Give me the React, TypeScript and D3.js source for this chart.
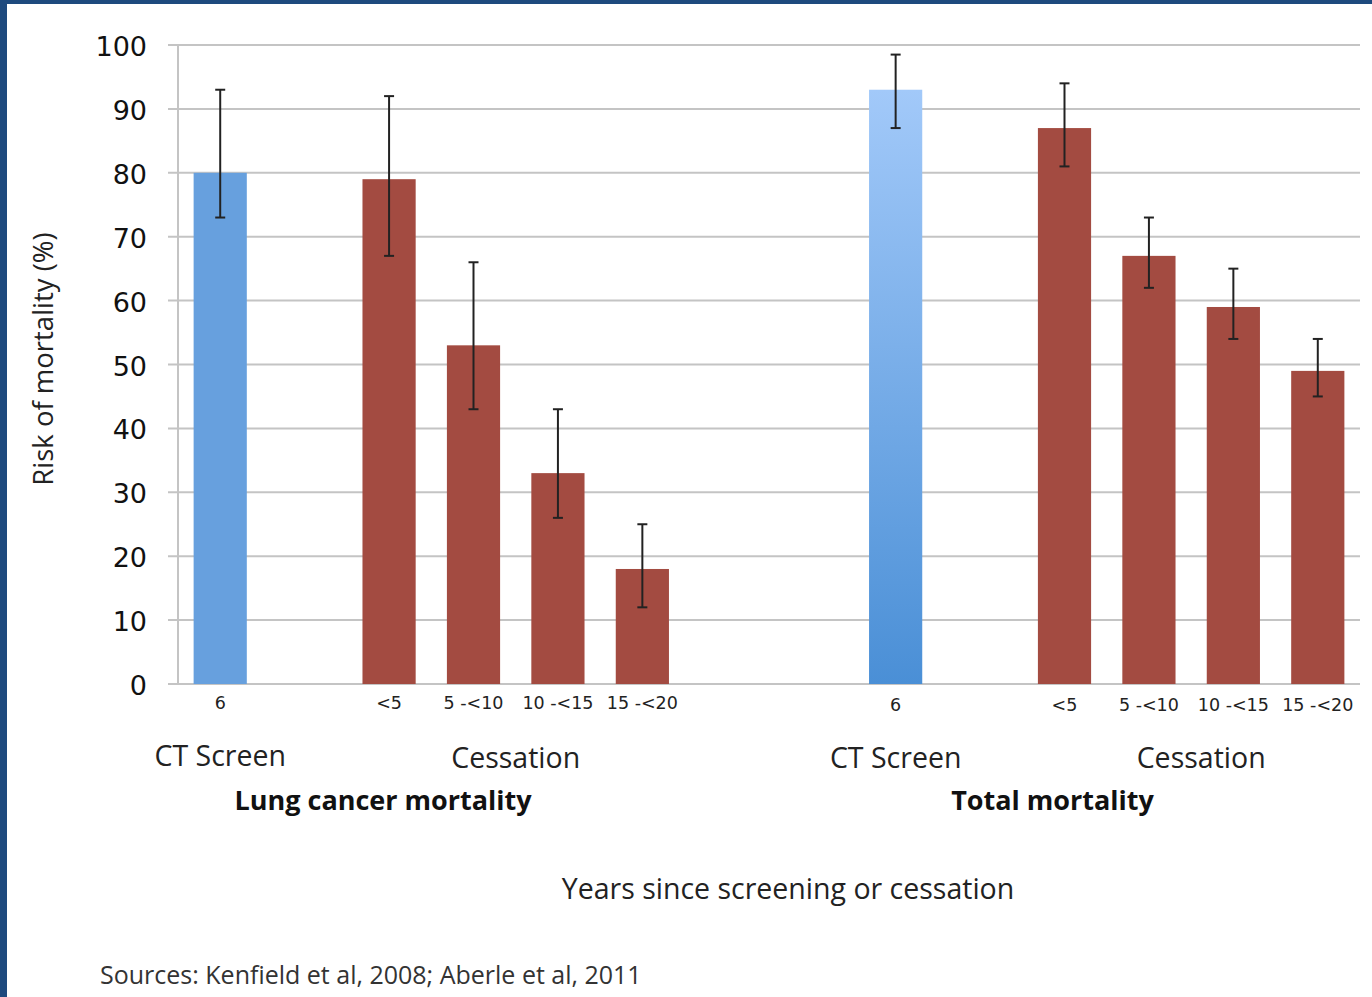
import React, { useRef, useEffect } from 'react';
import * as d3 from 'd3';

// 14 slots on a band scale, empty slots keep the spacing
const slots = ['s0', 's1', 's2', 's3', 's4', 's5', 's6', 's7', 's8', 's9', 's10', 's11', 's12', 's13'];
const barSlots = ['s0', 's2', 's3', 's4', 's5', 's8', 's10', 's11', 's12', 's13'];
const barLabels = ['6', '<5', '5 -<10', '10 -<15', '15 -<20', '6', '<5', '5 -<10', '10 -<15', '15 -<20'];
const barValues = [80, 79, 53, 33, 18, 93, 87, 67, 59, 49];
const errLow = [73, 67, 43, 26, 12, 87, 81, 62, 54, 45];
const errHigh = [93, 92, 66, 43, 25, 98.5, 94, 73, 65, 54];
const barKinds = ['ct', 'cess', 'cess', 'cess', 'cess', 'ctGrad', 'cess', 'cess', 'cess', 'cess'];
const yTicks = [0, 10, 20, 30, 40, 50, 60, 70, 80, 90, 100];

const groupLabels = [
  { text: 'CT Screen', from: 's0', to: 's0' },
  { text: 'Cessation', from: 's2', to: 's5' },
  { text: 'CT Screen', from: 's8', to: 's8' },
  { text: 'Cessation', from: 's10', to: 's13' },
];
const panelLabels = [
  { text: 'Lung cancer mortality', slot: 's2' },
  { text: 'Total mortality', slot: 's10' },
];

const W = 1372;
const H = 997;
const FONT = "'Open Sans', sans-serif";

const App: React.FC = () => {
  const svgRef = useRef<SVGSVGElement>(null);

  useEffect(() => {
    if (!svgRef.current) return;
    const svg = d3.select(svgRef.current);
    svg.selectAll('*').remove();

    const left = 178;
    const right = 1360;
    const top = 45;
    const bottom = 684;

    const x = d3.scaleBand<string>().domain(slots).range([left, right]).paddingInner(0.37).paddingOuter(0.185);
    const y = d3.scaleLinear().domain([0, 100]).range([bottom, top]);

    const defs = svg.append('defs');
    const grad = defs.append('linearGradient')
      .attr('id', 'ctGrad')
      .attr('x1', 0).attr('x2', 0).attr('y1', 0).attr('y2', 1);
    grad.append('stop').attr('offset', '0%').attr('stop-color', '#a2c9f9');
    grad.append('stop').attr('offset', '100%').attr('stop-color', '#4a8fd6');

    // background + frame
    svg.append('rect').attr('width', W).attr('height', H).attr('fill', '#ffffff');
    svg.append('rect').attr('x', 0).attr('y', 0).attr('width', W).attr('height', 4).attr('fill', '#1e4a7e');
    svg.append('rect').attr('x', 0).attr('y', 0).attr('width', 7).attr('height', H).attr('fill', '#1e4a7e');

    // gridlines
    yTicks.forEach(v => {
      svg.append('line')
        .attr('x1', left - 10).attr('x2', right)
        .attr('y1', y(v)).attr('y2', y(v))
        .attr('stroke', '#c4c4c4')
        .attr('stroke-width', 2);
    });
    svg.append('line')
      .attr('x1', left).attr('x2', left)
      .attr('y1', top).attr('y2', bottom)
      .attr('stroke', '#c4c4c4')
      .attr('stroke-width', 2);

    // y tick labels
    yTicks.forEach(v => {
      svg.append('text')
        .attr('x', 147)
        .attr('y', y(v) + 11)
        .attr('text-anchor', 'end')
        .attr('font-family', 'DejaVu Sans')
        .attr('font-size', '27px')
        .attr('fill', '#111')
        .text(v);
    });

    // bars
    barSlots.forEach((s, i) => {
      const kind = barKinds[i];
      const fill = kind === 'cess' ? '#a34b41' : kind === 'ct' ? '#67a0de' : 'url(#ctGrad)';
      svg.append('rect')
        .attr('x', x(s)!)
        .attr('y', y(barValues[i]))
        .attr('width', x.bandwidth())
        .attr('height', y(0) - y(barValues[i]))
        .attr('fill', fill);
    });

    // error bars
    barSlots.forEach((s, i) => {
      const cx = x(s)! + x.bandwidth() / 2;
      const g = svg.append('g').attr('stroke', '#222').attr('stroke-width', 2);
      g.append('line').attr('x1', cx).attr('x2', cx).attr('y1', y(errHigh[i])).attr('y2', y(errLow[i]));
      g.append('line').attr('x1', cx - 5).attr('x2', cx + 5).attr('y1', y(errHigh[i])).attr('y2', y(errHigh[i]));
      g.append('line').attr('x1', cx - 5).attr('x2', cx + 5).attr('y1', y(errLow[i])).attr('y2', y(errLow[i]));
    });

    // x tick labels
    barSlots.forEach((s, i) => {
      svg.append('text')
        .attr('x', x(s)! + x.bandwidth() / 2)
        .attr('y', i < 5 ? 709 : 711)
        .attr('text-anchor', 'middle')
        .attr('font-family', 'DejaVu Sans')
        .attr('font-size', '17.5px')
        .attr('fill', '#222')
        .text(barLabels[i]);
    });

    const mid = (a: string, b: string) => (x(a)! + x(b)! + x.bandwidth()) / 2;

    groupLabels.forEach((gl, i) => {
      svg.append('text')
        .attr('x', mid(gl.from, gl.to) + (i === 3 ? 10 : 0))
        .attr('y', i === 0 ? 766 : 768)
        .attr('text-anchor', 'middle')
        .attr('font-family', FONT)
        .attr('font-size', '28.5px')
        .attr('fill', '#222')
        .text(gl.text);
    });

    panelLabels.forEach((pl, i) => {
      svg.append('text')
        .attr('x', x(pl.slot)! + x.bandwidth() / 2 - (i === 0 ? 6 : 12))
        .attr('y', 810)
        .attr('text-anchor', 'middle')
        .attr('font-family', FONT)
        .attr('font-weight', 700)
        .attr('font-size', '27px')
        .attr('fill', '#111')
        .text(pl.text);
    });

    svg.append('text')
      .attr('x', 788)
      .attr('y', 899)
      .attr('text-anchor', 'middle')
      .attr('font-family', FONT)
      .attr('font-size', '28.5px')
      .attr('fill', '#222')
      .text('Years since screening or cessation');

    svg.append('text')
      .attr('transform', 'rotate(-90)')
      .attr('x', -359)
      .attr('y', 53)
      .attr('text-anchor', 'middle')
      .attr('font-family', FONT)
      .attr('font-size', '27.5px')
      .attr('fill', '#222')
      .text('Risk of mortality (%)');

    svg.append('text')
      .attr('x', 100)
      .attr('y', 984)
      .attr('font-family', FONT)
      .attr('font-size', '25px')
      .attr('fill', '#333')
      .text('Sources: Kenfield et al, 2008; Aberle et al, 2011');
  }, []);

  return (
    <svg
      ref={svgRef}
      width={W}
      height={H}
      style={{ position: 'absolute', left: 0, top: 0 }}
    />
  );
};

export default App;
